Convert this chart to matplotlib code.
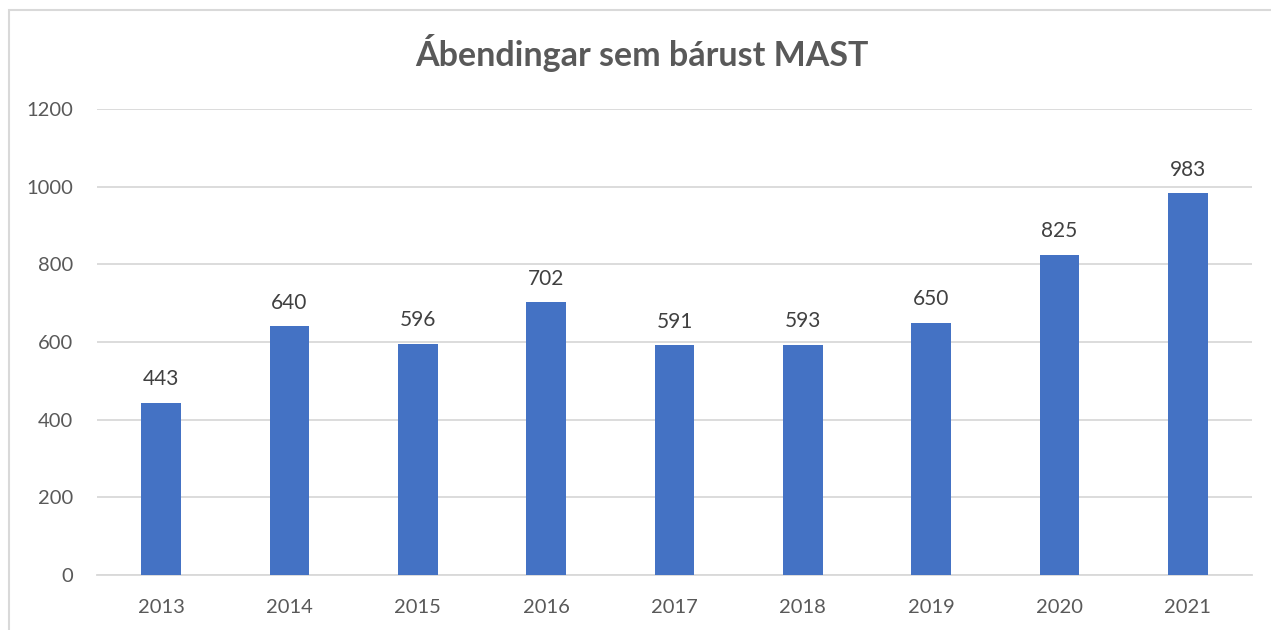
import matplotlib
matplotlib.use("Agg")
import matplotlib.pyplot as plt
from matplotlib.patches import Rectangle

years = ["2013", "2014", "2015", "2016", "2017", "2018", "2019", "2020", "2021"]
counts = [443, 640, 596, 702, 591, 593, 650, 825, 983]
yticks = [0, 200, 400, 600, 800, 1000, 1200]

plt.rcParams['font.family'] = ['Lato', 'DejaVu Sans']

fig = plt.figure(figsize=(12.71, 6.30), dpi=100)
ax = fig.add_axes([97 / 1271, 1 - 575 / 630, (1252 - 97) / 1271, (575 - 109) / 630])

x = range(len(years))
bars = ax.bar(x, counts, width=0.31, color="#4472c4", zorder=3)

for xi, v in zip(x, counts):
    ax.annotate(str(v), (xi, v), xytext=(0, 17), textcoords="offset points",
                ha="center", va="center", fontsize=15, color="#404040")

ax.set_ylim(0, 1200)
ax.set_xlim(-0.5, len(years) - 0.5)
ax.set_yticks(yticks)
ax.set_xticks(list(x))
ax.set_xticklabels(years)
ax.yaxis.grid(True, color="#d9d9d9", linewidth=1.3, zorder=0)
ax.tick_params(axis="both", length=0, labelsize=14.5, labelcolor="#595959")
ax.tick_params(axis="y", pad=17)
ax.tick_params(axis="x", pad=17)
for s in ["top", "right", "left"]:
    ax.spines[s].set_visible(False)
ax.spines["bottom"].set_color("#d9d9d9")
ax.spines["bottom"].set_linewidth(1.3)

fig.text(642 / 1271, 1 - 53 / 630, "Ábendingar sem bárust MAST", ha="center", va="center",
         fontsize=24.5, fontweight="bold", color="#595959")

fig.patches.append(Rectangle((8.5 / 1271, -0.1), 1.2, 1.1 - 10 / 630, transform=fig.transFigure,
                             fill=False, edgecolor="#d9d9d9", linewidth=1.5))

fig.savefig("out.png", dpi=100)
